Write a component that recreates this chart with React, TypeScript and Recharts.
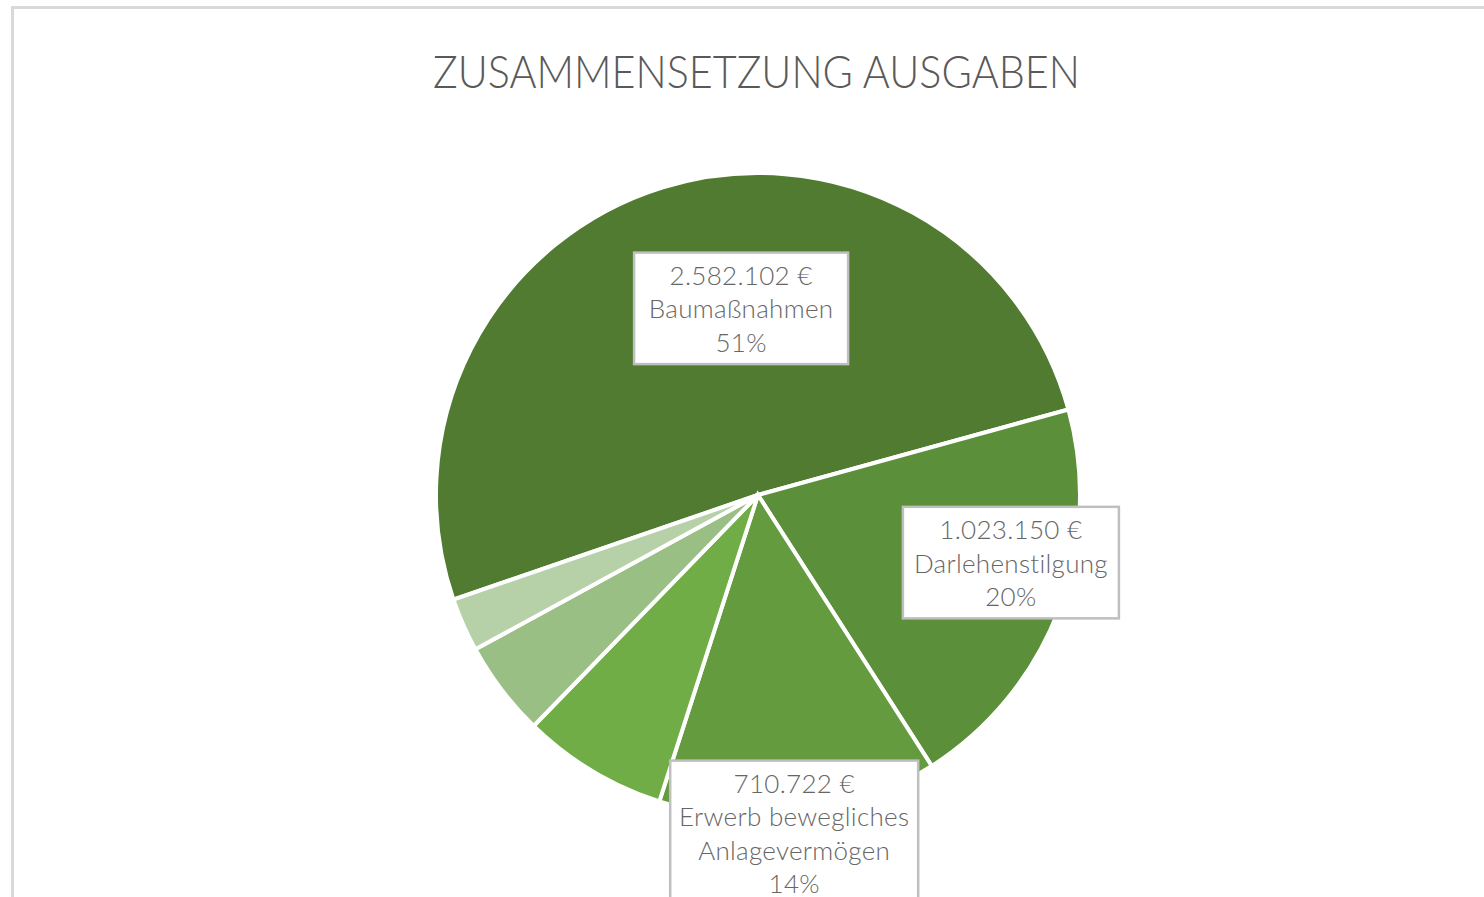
import React from "react";
import { PieChart, Pie, Cell } from "recharts";

const categories = [
  "Baumaßnahmen",
  "Darlehenstilgung",
  "Erwerb bewegliches\nAnlagevermögen",
  "Sonstige Ausgaben A",
  "Sonstige Ausgaben B",
  "Sonstige Ausgaben C",
];
const amounts = [2582102, 1023150, 710722, 370200, 242100, 136200];
const colors = ["#507b31", "#5b8f3a", "#659b3f", "#70ad47", "#9abf85", "#b6d0a7"];
const showLabel = [true, true, true, false, false, false];
// label placement: angle shift from slice middle (deg), radius factor, box width
const labelAngleShift = [-12, 6, -1.3, 0, 0, 0];
const labelRadius = [0.582, 0.813, 1.056, 0, 0, 0];
const labelBoxWidth = [214, 216, 248, 0, 0, 0];

const title = "ZUSAMMENSETZUNG AUSGABEN";

const data = categories.map((name, i) => ({ name, value: amounts[i] }));

const fmt = (v: number) => String(v).replace(/\B(?=(\d{3})+(?!\d))/g, ".") + " €";

const FONT = "Lato, 'Open Sans', sans-serif";
const RAD = Math.PI / 180;

const renderLabel = (props: any) => {
  const { cx, cy, midAngle, outerRadius, index, value, percent, name } = props;
  if (!showLabel[index]) return null;
  const ang = (midAngle + labelAngleShift[index]) * RAD;
  const r = outerRadius * labelRadius[index];
  const x = cx + r * Math.cos(ang);
  const y = cy - r * Math.sin(ang);
  const lines = [fmt(value), ...String(name).split("\n"), Math.round(percent * 100) + "%"];
  const lh = 33.5;
  const w = labelBoxWidth[index];
  const h = lines.length * lh + 11;
  return (
    <g key={"lbl" + index}>
      <rect
        x={x - w / 2}
        y={y - h / 2}
        width={w}
        height={h}
        fill="#ffffff"
        stroke="#bfbfbf"
        strokeWidth={2.5}
      />
      {lines.map((t, k) => (
        <text
          key={k}
          x={x}
          y={y - ((lines.length - 1) * lh) / 2 + k * lh}
          textAnchor="middle"
          dominantBaseline="central"
          fill="#666666"
          fontSize={26}
          fontFamily={FONT}
          fontWeight={300}
          letterSpacing={0.3}
        >
          {t}
        </text>
      ))}
    </g>
  );
};

export default function App() {
  const total = amounts.reduce((a, b) => a + b, 0);
  const firstSpan = (amounts[0] / total) * 360;
  const startAngle = 15.4 + firstSpan;
  return (
    <div
      style={{
        position: "fixed",
        left: 0,
        top: 0,
        width: 1484,
        height: 897,
        overflow: "hidden",
        background: "#ffffff",
      }}
    >
      <div
        style={{
          position: "absolute",
          left: 11,
          top: 6,
          width: 2000,
          height: 2000,
          border: "3px solid #d9d9d9",
          boxSizing: "border-box",
        }}
      />
      <div style={{ position: "absolute", left: 0, top: 0 }}>
        <PieChart width={1484} height={897} margin={{ top: 0, right: 0, bottom: 0, left: 0 }}>
          <text
            x={756.5}
            y={88}
            textAnchor="middle"
            fill="#595959"
            fontSize={45}
            fontFamily={FONT}
            fontWeight={300}
            textLength={647}
            lengthAdjust="spacingAndGlyphs"
          >
            {title}
          </text>
          <Pie
            data={data}
            dataKey="value"
            nameKey="name"
            cx={758}
            cy={495}
            outerRadius={322}
            startAngle={startAngle}
            endAngle={startAngle - 360}
            stroke="#ffffff"
            strokeWidth={4}
            label={renderLabel}
            labelLine={false}
            isAnimationActive={false}
          >
            {data.map((d, i) => (
              <Cell key={d.name} fill={colors[i]} />
            ))}
          </Pie>
        </PieChart>
      </div>
    </div>
  );
}
